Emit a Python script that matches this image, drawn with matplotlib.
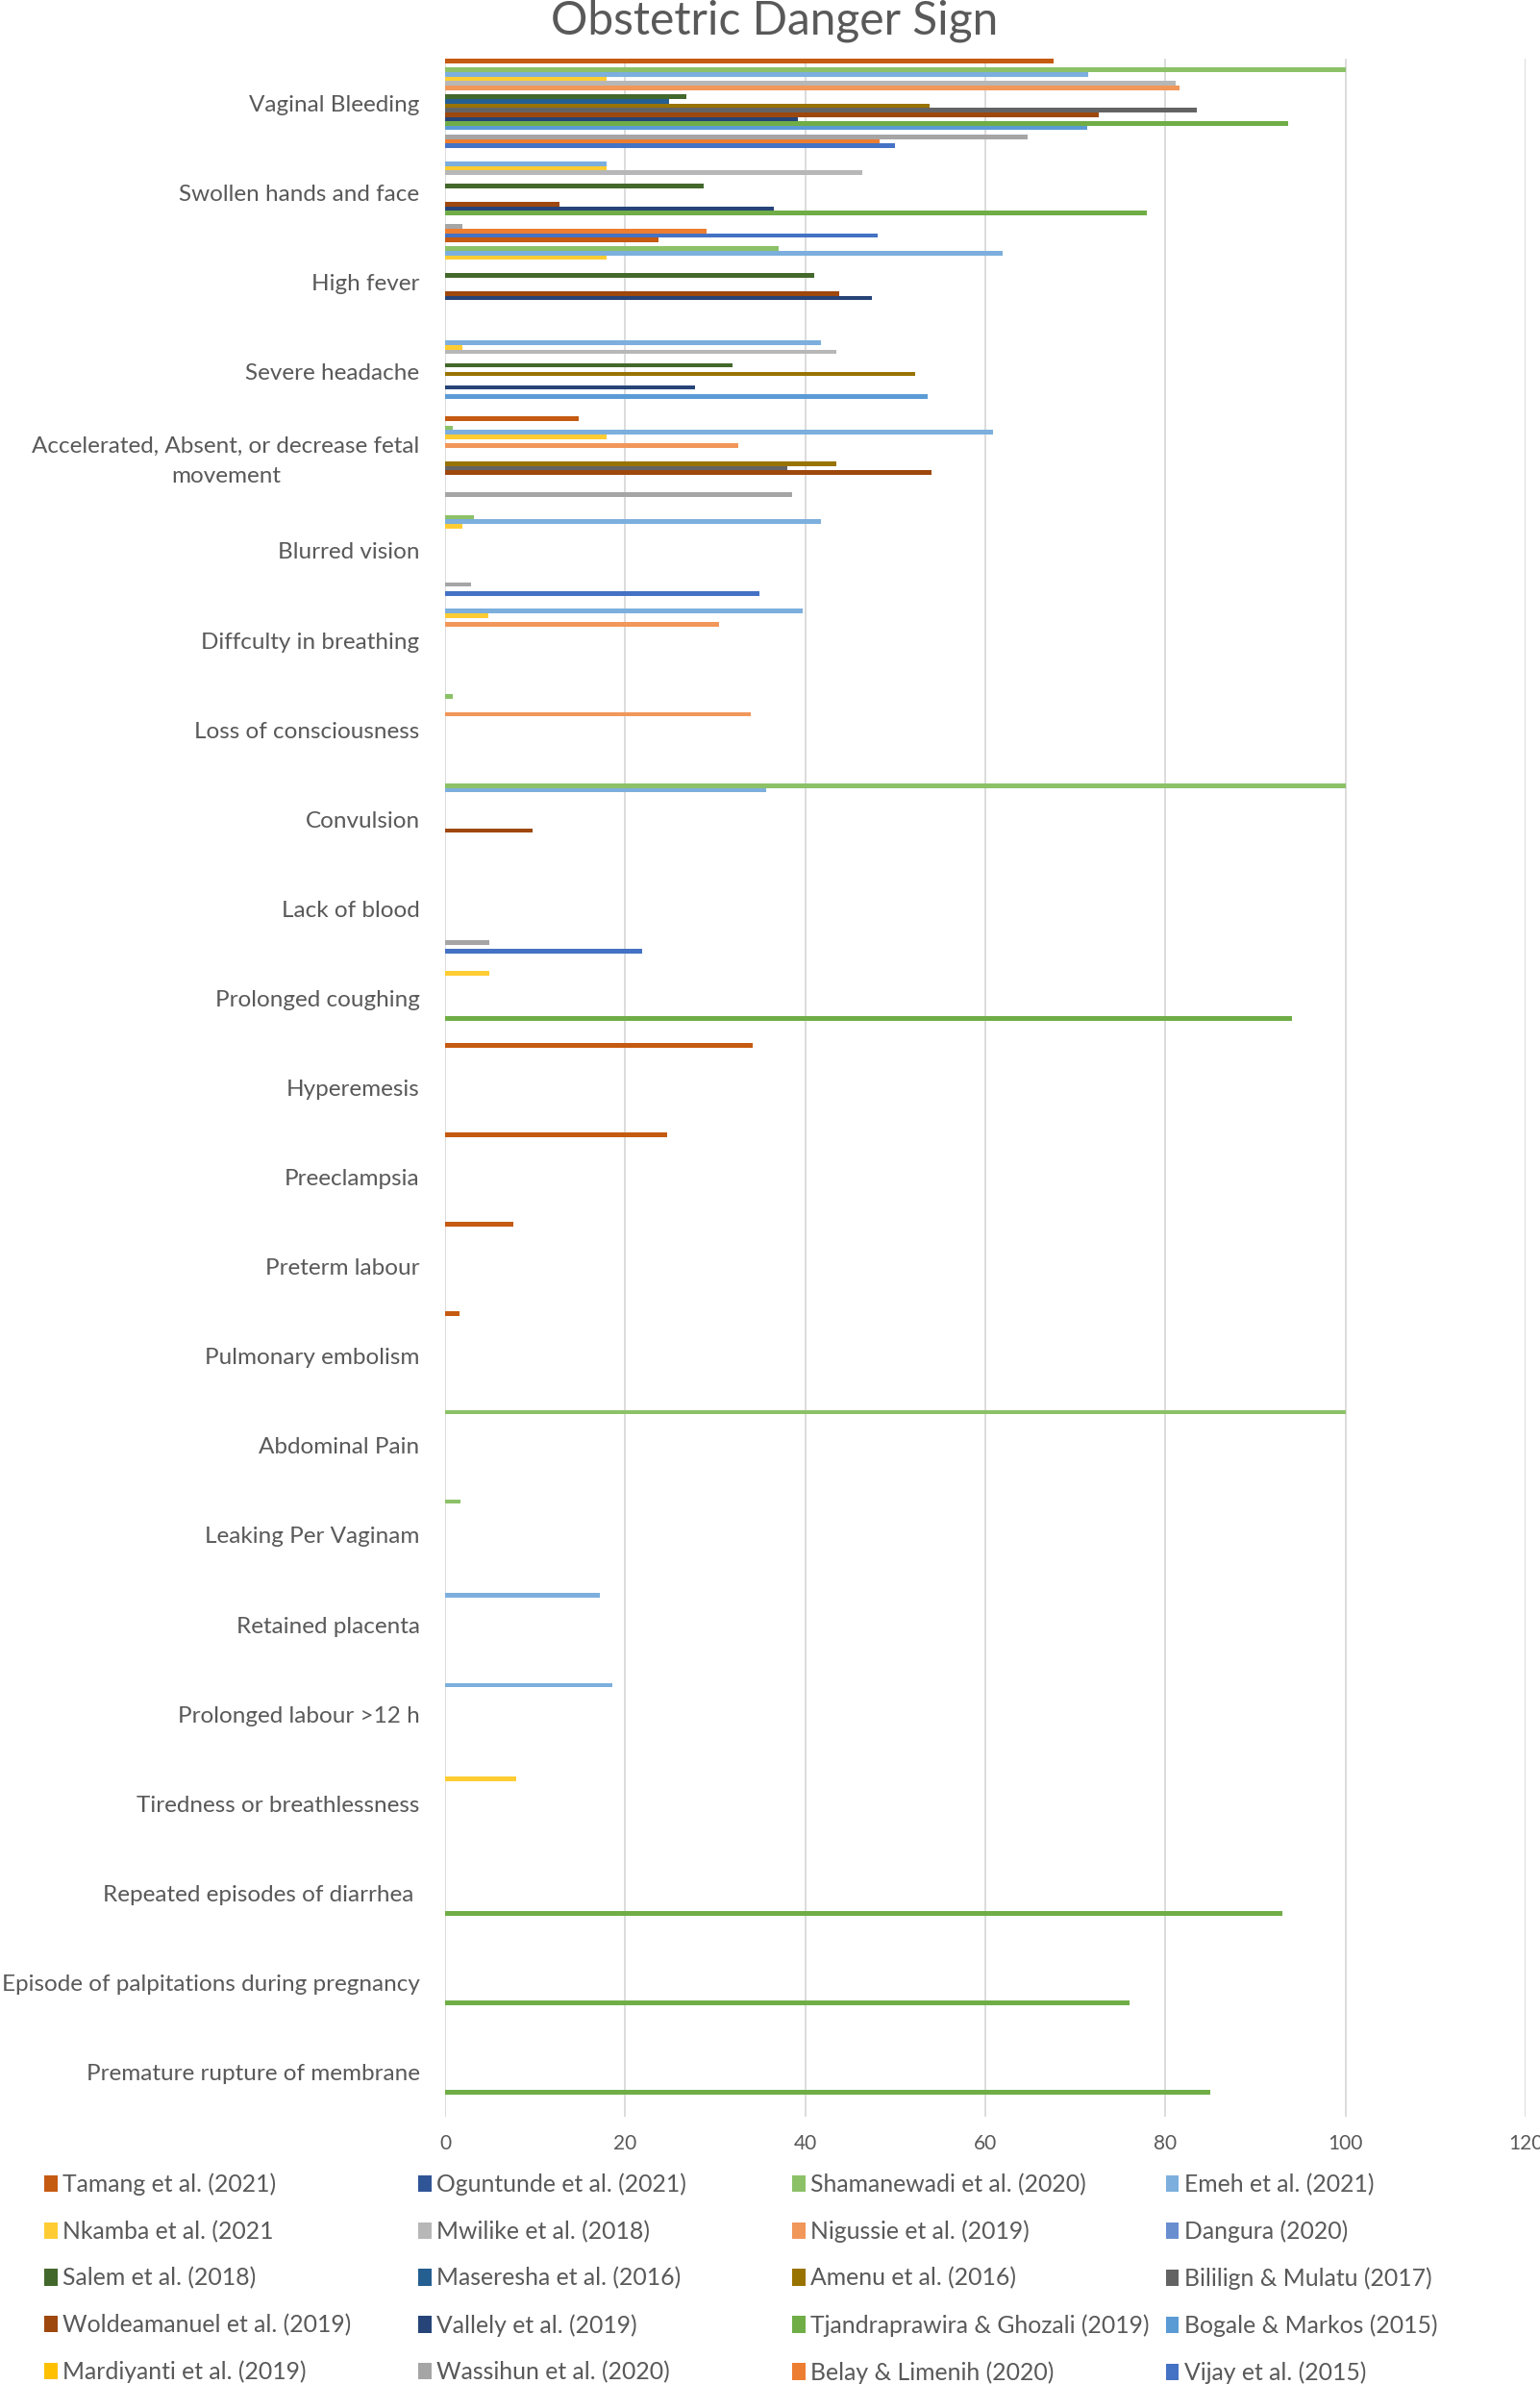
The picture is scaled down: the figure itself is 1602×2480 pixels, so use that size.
import numpy as np
import matplotlib
matplotlib.use("Agg")
import matplotlib.pyplot as plt
from matplotlib.patches import Patch

plt.rcParams['font.family'] = ['Lato', 'DejaVu Sans']

categories = [
    "Vaginal Bleeding", "Swollen hands and face", "High fever", "Severe headache",
    "Accelerated, Absent, or decrease fetal\nmovement", "Blurred vision",
    "Diffculty in breathing", "Loss of consciousness", "Convulsion", "Lack of blood",
    "Prolonged coughing", "Hyperemesis", "Preeclampsia", "Preterm labour",
    "Pulmonary embolism", "Abdominal Pain", "Leaking Per Vaginam", "Retained placenta",
    "Prolonged labour >12 h", "Tiredness or breathlessness",
    "Repeated episodes of diarrhea ", "Episode of palpitations during pregnancy",
    "Premature rupture of membrane",
]

series_names = [
    "Tamang et al. (2021)", "Oguntunde et al. (2021)", "Shamanewadi et al. (2020)", "Emeh et al. (2021)",
    "Nkamba et al. (2021", "Mwilike et al. (2018)", "Nigussie et al. (2019)", "Dangura (2020)",
    "Salem et al. (2018)", "Maseresha et al. (2016)", "Amenu et al. (2016)", "Bililign & Mulatu (2017)",
    "Woldeamanuel et al. (2019)", "Vallely et al. (2019)", "Tjandraprawira & Ghozali (2019)", "Bogale & Markos (2015)",
    "Mardiyanti et al. (2019)", "Wassihun et al. (2020)", "Belay & Limenih (2020)", "Vijay et al. (2015)",
]

series_colors = [
    "#C55A11", "#2F5597", "#8CC168", "#7CAFDD",
    "#FFCD33", "#B7B7B7", "#F1975A", "#698ED0",
    "#43682B", "#255E91", "#997300", "#636363",
    "#9E480E", "#264478", "#70AD47", "#5B9BD5",
    "#FFC000", "#A5A5A5", "#ED7D31", "#4472C4",
]

#                 VB    Sw    HF    SH    AF    BV    DB    LC    Co    LB    PC    Hy    Pe    Pt    PE    AP    LP    RP    PL    Ti    RD    EP    PR
tamang        = [67.6, 0,    23.7, 0,    14.8, 0,    0,    0,    0,    0,    0,    34.2, 24.7, 7.6,  1.6,  0,    0,    0,    0,    0,    0,    0,    0]
oguntunde     = [0,    0,    0,    0,    0,    0,    0,    0,    0,    0,    0,    0,    0,    0,    0,    0,    0,    0,    0,    0,    0,    0,    0]
shamanewadi   = [100,  0,    37.0, 0,    0.9,  3.2,  0,    0.9,  100,  0,    0,    0,    0,    0,    0,    100,  1.7,  0,    0,    0,    0,    0,    0]
emeh          = [71.4, 17.9, 61.9, 41.7, 60.8, 41.7, 39.7, 0,    35.7, 0,    0,    0,    0,    0,    0,    0,    0,    17.2, 18.6, 0,    0,    0,    0]
nkamba        = [17.9, 17.9, 17.9, 1.9,  17.9, 1.9,  4.8,  0,    0,    0,    4.9,  0,    0,    0,    0,    0,    0,    0,    0,    7.9,  0,    0,    0]
mwilike       = [81.1, 46.3, 0,    43.5, 0,    0,    0,    0,    0,    0,    0,    0,    0,    0,    0,    0,    0,    0,    0,    0,    0,    0,    0]
nigussie      = [81.6, 0,    0,    0,    32.6, 0,    30.4, 34.0, 0,    0,    0,    0,    0,    0,    0,    0,    0,    0,    0,    0,    0,    0,    0]
dangura       = [0,    0,    0,    0,    0,    0,    0,    0,    0,    0,    0,    0,    0,    0,    0,    0,    0,    0,    0,    0,    0,    0,    0]
salem         = [26.8, 28.7, 41.0, 31.9, 0,    0,    0,    0,    0,    0,    0,    0,    0,    0,    0,    0,    0,    0,    0,    0,    0,    0,    0]
maseresha     = [24.9, 0,    0,    0,    0,    0,    0,    0,    0,    0,    0,    0,    0,    0,    0,    0,    0,    0,    0,    0,    0,    0,    0]
amenu         = [53.8, 0,    0,    52.2, 43.4, 0,    0,    0,    0,    0,    0,    0,    0,    0,    0,    0,    0,    0,    0,    0,    0,    0,    0]
bililign      = [83.5, 0,    0,    0,    38.0, 0,    0,    0,    0,    0,    0,    0,    0,    0,    0,    0,    0,    0,    0,    0,    0,    0,    0]
woldeamanuel  = [72.6, 12.7, 43.8, 0,    54.0, 0,    0,    0,    9.7,  0,    0,    0,    0,    0,    0,    0,    0,    0,    0,    0,    0,    0,    0]
vallely       = [39.2, 36.5, 47.4, 27.8, 0,    0,    0,    0,    0,    0,    0,    0,    0,    0,    0,    0,    0,    0,    0,    0,    0,    0,    0]
tjandraprawira= [93.6, 77.9, 0,    0,    0,    0,    0,    0,    0,    0,    94.0, 0,    0,    0,    0,    0,    0,    0,    0,    0,    93.0, 76.0, 85.0]
bogale        = [71.3, 0,    0,    53.6, 0,    0,    0,    0,    0,    0,    0,    0,    0,    0,    0,    0,    0,    0,    0,    0,    0,    0,    0]
mardiyanti    = [0,    0,    0,    0,    0,    0,    0,    0,    0,    0,    0,    0,    0,    0,    0,    0,    0,    0,    0,    0,    0,    0,    0]
wassihun      = [64.7, 1.9,  0,    0,    38.5, 2.9,  0,    0,    0,    4.9,  0,    0,    0,    0,    0,    0,    0,    0,    0,    0,    0,    0,    0]
belay         = [48.3, 29.0, 0,    0,    0,    0,    0,    0,    0,    0,    0,    0,    0,    0,    0,    0,    0,    0,    0,    0,    0,    0,    0]
vijay         = [50.0, 48.0, 0,    0,    0,    34.9, 0,    0,    0,    21.9, 0,    0,    0,    0,    0,    0,    0,    0,    0,    0,    0,    0,    0]

series_values = [tamang, oguntunde, shamanewadi, emeh, nkamba, mwilike, nigussie, dangura,
                 salem, maseresha, amenu, bililign, woldeamanuel, vallely, tjandraprawira,
                 bogale, mardiyanti, wassihun, belay, vijay]

x_ticks = [0, 20, 40, 60, 80, 100, 120]

TEXT = "#595959"
GRID = "#D9D9D9"

fig = plt.figure(figsize=(16.02, 24.80), dpi=100)
ax = fig.add_axes([0.289, 0.1121, 0.7017, 0.8633])

n_series = len(series_values)
slot = 1.0 / n_series
ypos = np.arange(len(categories))
handles = []
for j, (vals, name, col) in enumerate(zip(series_values, series_names, series_colors)):
    offs = (j - (n_series - 1) / 2) * slot
    ax.barh(ypos + offs, vals, height=slot, color=col, linewidth=0, zorder=3)
    handles.append(Patch(facecolor=col, edgecolor='none', label=name))

ax.set_ylim(len(categories) - 0.5, -0.5)
ax.set_xlim(0, 120)
ax.set_xticks(x_ticks)
ax.set_xticklabels([str(t) for t in x_ticks], fontsize=15, color=TEXT)
ax.set_yticks(ypos)
ax.set_yticklabels(categories, fontsize=17.5, color=TEXT)
for lbl in ax.get_yticklabels():
    lbl.set_multialignment('center')
    if "\n" in lbl.get_text():
        lbl.set_linespacing(1.6)
        lbl.set_verticalalignment('center')
ax.tick_params(axis='both', length=0)
ax.tick_params(axis='y', pad=19)
ax.tick_params(axis='x', pad=13)
for s in ax.spines.values():
    s.set_visible(False)
ax.grid(axis='x', color=GRID, linewidth=1.3, zorder=0)
ax.grid(axis='y', visible=False)

fig.text(0.503, 0.9912, "Obstetric Danger Sign", ha='center', va='center',
         fontsize=34.5, color=TEXT)

# legend: 4 columns, row-wise order
col_x = [0.0287, 0.2715, 0.5145, 0.757]
for k in range(4):
    col_handles = [handles[r * 4 + k] for r in range(5)]
    fig.legend(handles=col_handles, loc='upper left', bbox_to_anchor=(col_x[k], 0.0885),
               frameon=False, fontsize=17.8, labelcolor=TEXT, handlelength=0.55,
               handleheight=0.7, handletextpad=0.22, labelspacing=1.03,
               borderpad=0, borderaxespad=0)

fig.savefig("out.png", dpi=100, facecolor='white')
